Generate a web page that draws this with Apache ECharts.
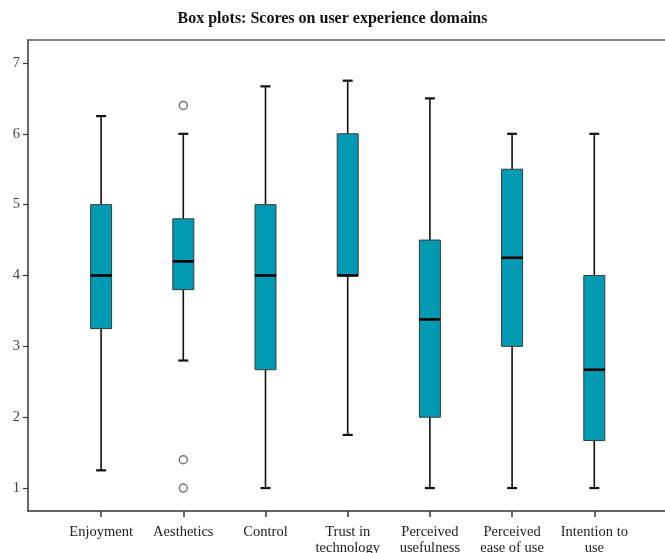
<!DOCTYPE html>
<html>
<head>
<meta charset="utf-8">
<script src="https://cdn.jsdelivr.net/npm/echarts@6/dist/echarts.min.js"></script>
<style>html,body{margin:0;padding:0;background:#fff}#c{width:665px;height:553px}</style>
</head>
<body>
<div id="c"></div>
<script>
const categories = ['Enjoyment','Aesthetics','Control','Trust in\ntechnology','Perceived\nusefulness','Perceived\nease of use','Intention to\nuse'];
const whiskerLow  = [1.25, 2.8, 1.0, 1.75, 1.0, 1.0, 1.0];
const q1Values    = [3.25, 3.8, 2.67, 4.0, 2.0, 3.0, 1.67];
const medians     = [4.0, 4.2, 4.0, 4.0, 3.38, 4.25, 2.67];
const q3Values    = [5.0, 4.8, 5.0, 6.0, 4.5, 5.5, 4.0];
const whiskerHigh = [6.25, 6.0, 6.67, 6.75, 6.5, 6.0, 6.0];
const outliers    = [[1, 6.4], [1, 1.4], [1, 1.0]];
const yTicks      = [1, 2, 3, 4, 5, 6, 7];

const boxData = categories.map((c, i) => [i, whiskerLow[i], q1Values[i], medians[i], q3Values[i], whiskerHigh[i]]);

const Y_MIN = 0.676, Y_MAX = 7.324;
const FONT = '"Liberation Serif", "Times New Roman", serif';

function renderItem(params, api) {
  const i = api.value(0);
  const lo = api.coord([i, api.value(1)]);
  const q1 = api.coord([i, api.value(2)]);
  const md = api.coord([i, api.value(3)]);
  const q3 = api.coord([i, api.value(4)]);
  const hi = api.coord([i, api.value(5)]);
  const x = md[0];
  const bw = 21, cw = 10;
  const lineStyle = {stroke: '#111', lineWidth: 1.6};
  return {
    type: 'group',
    children: [
      {type: 'line', shape: {x1: x, y1: hi[1], x2: x, y2: q3[1]}, style: lineStyle},
      {type: 'line', shape: {x1: x, y1: q1[1], x2: x, y2: lo[1]}, style: lineStyle},
      {type: 'line', shape: {x1: x - cw / 2, y1: hi[1], x2: x + cw / 2, y2: hi[1]}, style: {stroke: '#111', lineWidth: 2.2}},
      {type: 'line', shape: {x1: x - cw / 2, y1: lo[1], x2: x + cw / 2, y2: lo[1]}, style: {stroke: '#111', lineWidth: 2.2}},
      {type: 'rect', shape: {x: x - bw / 2, y: q3[1], width: bw, height: q1[1] - q3[1]}, style: {fill: '#009bb3', stroke: '#3a3a3a', lineWidth: 1}},
      {type: 'line', shape: {x1: x - bw / 2, y1: md[1], x2: x + bw / 2, y2: md[1]}, style: {stroke: '#000', lineWidth: 2.6}}
    ]
  };
}

const chart = echarts.init(document.getElementById('c'), null, {renderer: 'canvas'});
chart.setOption({
  animation: false,
  backgroundColor: '#fff',
  title: {
    text: 'Box plots: Scores on user experience domains',
    left: 'center', top: 6,
    textStyle: {fontFamily: FONT, fontWeight: 'bold', fontSize: 16, color: '#111'}
  },
  grid: [
    {left: 28, right: -2, top: 40, bottom: 42, containLabel: false, outerBoundsMode: 'none'},
    {left: 60, right: 29.6, top: 40, bottom: 42, containLabel: false, outerBoundsMode: 'none'}
  ],
  xAxis: [
    {gridIndex: 0, type: 'value', min: 0, max: 1, position: 'bottom',
     axisLine: {show: true, lineStyle: {color: '#333', width: 1.5}},
     axisTick: {show: false}, axisLabel: {show: false}, splitLine: {show: false}},
    {gridIndex: 0, type: 'value', min: 0, max: 1, position: 'top',
     axisLine: {show: true, lineStyle: {color: '#555', width: 1.5}},
     axisTick: {show: false}, axisLabel: {show: false}, splitLine: {show: false}},
    {gridIndex: 1, type: 'category', data: categories, position: 'bottom',
     axisLine: {show: false},
     axisTick: {show: true, alignWithLabel: true, length: 6, lineStyle: {color: '#333', width: 1.5}},
     axisLabel: {interval: 0, margin: 13, fontFamily: FONT, fontSize: 14.5, color: '#222', lineHeight: 16},
     splitLine: {show: false}}
  ],
  yAxis: [
    {gridIndex: 0, type: 'value', min: Y_MIN, max: Y_MAX,
     axisLine: {show: true, lineStyle: {color: '#333', width: 1.5}},
     axisTick: {show: true, length: 5, customValues: yTicks, lineStyle: {color: '#333', width: 1.2}},
     axisLabel: {show: true, margin: 8, customValues: yTicks, fontFamily: FONT, fontSize: 14.5, color: '#444'},
     splitLine: {show: false}},
    {gridIndex: 1, type: 'value', min: Y_MIN, max: Y_MAX,
     axisLine: {show: false}, axisTick: {show: false}, axisLabel: {show: false}, splitLine: {show: false}}
  ],
  series: [
    {type: 'custom', xAxisIndex: 2, yAxisIndex: 1, renderItem: renderItem,
     encode: {x: 0, y: [1, 2, 3, 4, 5]}, data: boxData, z: 3},
    {type: 'scatter', xAxisIndex: 2, yAxisIndex: 1, data: outliers,
     symbol: 'circle', symbolSize: 8,
     itemStyle: {color: '#fff', borderColor: '#555', borderWidth: 1.5}, z: 4}
  ]
});
</script>
</body>
</html>
